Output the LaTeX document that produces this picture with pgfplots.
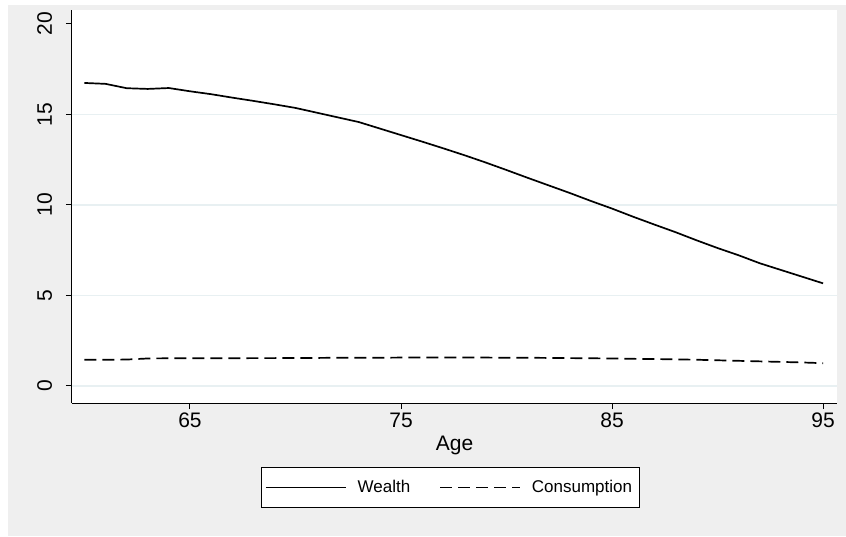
\documentclass[border=0pt]{standalone}
\usepackage{fontspec}
\setmainfont{Liberation Sans}
\usepackage{pgfplots}
\pgfplotsset{compat=1.18}
\definecolor{bggray}{RGB}{239,239,239}
\definecolor{gridc}{RGB}{232,240,242}
\pgfplotstableread{
age wealth cons
60 16.74 1.45
61 16.69 1.45
62 16.45 1.46
63 16.41 1.52
64 16.46 1.53
65 16.28 1.53
66 16.12 1.53
67 15.93 1.53
68 15.75 1.54
69 15.56 1.54
70 15.36 1.55
71 15.10 1.55
72 14.84 1.56
73 14.58 1.56
74 14.22 1.56
75 13.86 1.57
76 13.50 1.57
77 13.13 1.57
78 12.75 1.57
79 12.35 1.57
80 11.93 1.56
81 11.50 1.56
82 11.08 1.55
83 10.66 1.54
84 10.22 1.53
85 9.80 1.52
86 9.35 1.50
87 8.92 1.49
88 8.50 1.47
89 8.05 1.45
90 7.62 1.42
91 7.22 1.39
92 6.78 1.36
93 6.41 1.33
94 6.04 1.30
95 5.67 1.26
}\datatable
\begin{document}
\begin{tikzpicture}
\fill[white] (-36pt,-66.5pt) rectangle (387pt,201.5pt);
\fill[bggray] (-32pt,-66.5pt) rectangle (387pt,199pt);
\begin{axis}[
  at={(0pt,0pt)}, anchor=south west,
  scale only axis, width=382.5pt, height=196.5pt,
  xmin=59.41, xmax=95.66, ymin=-0.94, ymax=20.77,
  axis background/.style={fill=white},
  axis lines*=left,
  axis line style={line width=0.5pt, -},
  xtick={65,75,85,95}, ytick={0,5,10,15,20},
  minor tick num=0,
  tick align=outside, major tick length=3pt,
  tick style={line width=0.5pt, black},
  /pgf/number format/assume math mode=true,
  extra y ticks={0,5,10,15}, extra y tick labels={},
  extra y tick style={grid=major, major tick length=0pt, grid style={color=gridc, line width=0.7pt}},
  ticklabel style={font=\fontsize{10.5}{12}\selectfont},
  xticklabel style={anchor=base},
  xticklabel shift=9pt,
  yticklabel style={rotate=90, anchor=base},
  yticklabel shift=7pt,
  xlabel={Age},
  xlabel style={font=\fontsize{10.5}{12}\selectfont, at={(axis description cs:0.5,-0.1221)}, anchor=base},
  legend columns=2,
  legend cell align=left,
  legend image code/.code={\draw[#1] (0pt,0pt) -- (40pt,0pt);},
  legend style={at={(0.4948,-0.215)}, anchor=center, draw=black, fill=white, line width=0.5pt,
    font=\fontsize{8.5}{10}\selectfont, inner xsep=1.5pt, inner ysep=4pt,
    /tikz/every odd column/.append style={column sep=3.5pt},
    /tikz/every even column/.append style={column sep=12.5pt}},
]
\addplot[black, line width=0.85pt] table[x=age, y=wealth] {\datatable};
\addlegendentry{Wealth}
\addplot[black, line width=0.85pt, dash pattern=on 6pt off 3pt] table[x=age, y=cons] {\datatable};
\addlegendentry{Consumption}
\end{axis}
\end{tikzpicture}
\end{document}
